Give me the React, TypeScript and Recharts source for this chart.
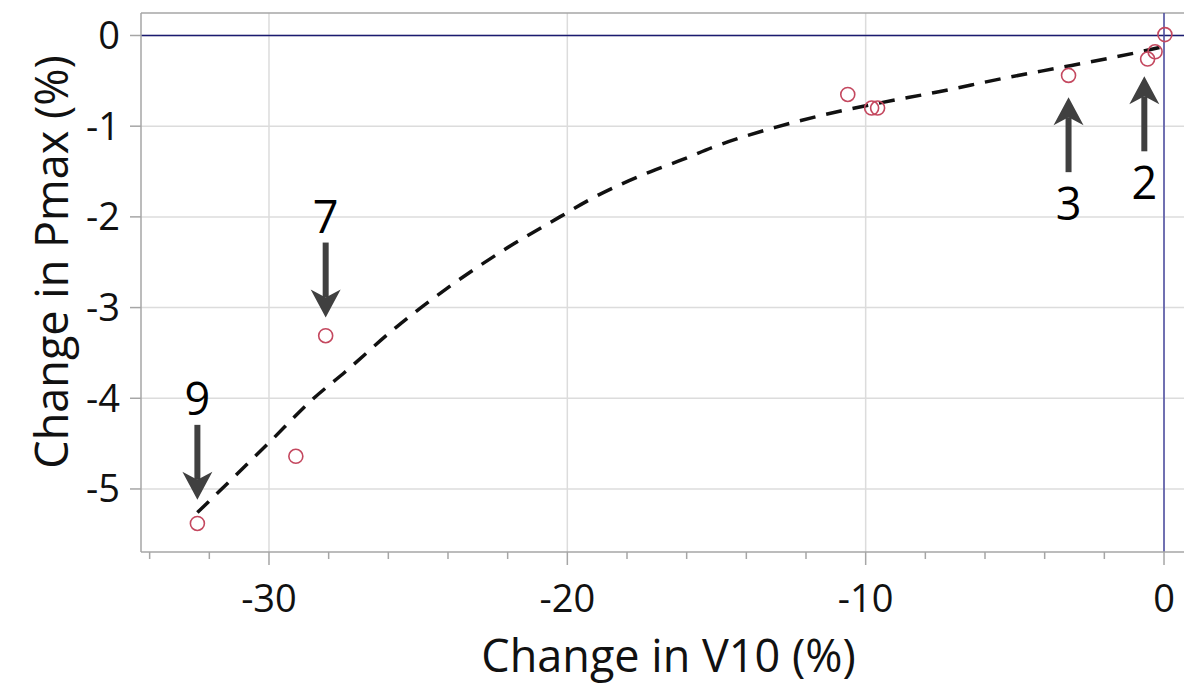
import React from "react";
import {
  CartesianGrid,
  ComposedChart,
  Line,
  ReferenceLine,
  Scatter,
  XAxis,
  YAxis,
} from "recharts";

// measured points (change in V10 %, change in Pmax %)
const v10Change = [-32.4, -29.1, -28.1, -10.6, -9.8, -9.6, -3.2, -0.55, -0.3, 0.03];
const pmaxChange = [-5.38, -4.64, -3.31, -0.65, -0.8, -0.8, -0.44, -0.26, -0.18, 0.01];

// fitted trend
const fitX = [-32.4, -30, -28.5, -27.45, -25.75, -24, -22.15, -20.25, -19.25, -17.2, -16.15, -15.1, -13, -10.8, -9.7, -7.55, -5.35, -3.1, -0.8, 0];
const fitY = [-5.26, -4.49, -4.0, -3.71, -3.22, -2.78, -2.37, -2.0, -1.81, -1.5, -1.37, -1.23, -1.01, -0.83, -0.755, -0.62, -0.47, -0.33, -0.18, -0.12];

// arrow annotations: x, y of arrow tip, label, pointing direction
const arrowX = [-32.4, -28.1, -3.2, -0.66];
const arrowY = [-5.12, -3.11, -0.68, -0.45];
const arrowLabels = ["9", "7", "3", "2"];
const arrowDir = ["down", "down", "up", "up"];

const xTicks = [-34, -32, -30, -28, -26, -24, -22, -20, -18, -16, -14, -12, -10, -8, -6, -4, -2, 0];
const xMajor = [-30, -20, -10, 0];
const yTicks = [-5, -4, -3, -2, -1, 0];

const xDomain = [-34.29, 0.67];
const yDomain = [-5.695, 0.248];

const points = v10Change.map((x, i) => ({ x, y: pmaxChange[i] }));
const fit = fitX.map((x, i) => ({ x, y: fitY[i] }));
const arrows = arrowX.map((x, i) => ({ x, y: arrowY[i], label: arrowLabels[i], dir: arrowDir[i] }));

const FONT = "'Open Sans', 'Noto Sans', sans-serif";
const AXIS_GRAY = "#a6a6a6";

function XTick(props: any) {
  const { x, y, payload } = props;
  const major = xMajor.includes(payload.value);
  return (
    <g>
      <line x1={x} x2={x} y1={y} y2={y + (major ? 13 : 7)} stroke={AXIS_GRAY} strokeWidth={1.5} />
      {major && (
        <text x={x} y={y + 60} textAnchor="middle" fontSize={38} fontFamily={FONT} fill="#111">
          {payload.value}
        </text>
      )}
    </g>
  );
}

function Circle(props: any) {
  const { cx, cy } = props;
  return <circle cx={cx} cy={cy} r={7} fill="none" stroke="#c4485f" strokeWidth={1.6} />;
}

function Arrow(props: any) {
  const { cx, cy, payload } = props;
  const s = payload.dir === "down" ? -1 : 1; // direction from tip towards the tail
  const len = 75;
  const head = 28;
  const notch = 20;
  const hw = 15;
  const head_pts = [
    [cx, cy],
    [cx - hw, cy + s * head],
    [cx, cy + s * notch],
    [cx + hw, cy + s * head],
  ]
    .map((p) => p.join(","))
    .join(" ");
  const labelY = s < 0 ? cy - len - 10 : cy + len + 48;
  return (
    <g>
      <line x1={cx} x2={cx} y1={cy + s * notch} y2={cy + s * len} stroke="#404040" strokeWidth={6} />
      <polygon points={head_pts} fill="#404040" />
      <text x={cx} y={labelY} textAnchor="middle" fontSize={45} fontFamily={FONT} fill="#000">
        {payload.label}
      </text>
    </g>
  );
}

function YLabel() {
  return (
    <text
      transform="translate(50, 262) rotate(-90)"
      textAnchor="middle"
      dominantBaseline="central"
      fontSize={45}
      fontFamily={FONT}
      fill="#111"
    >
      Change in Pmax (%)
    </text>
  );
}

export default function App() {
  return (
    <div style={{ position: "absolute", left: 0, top: 0, background: "#fff" }}>
      <ComposedChart
        width={1186}
        height={685}
        margin={{ top: 13, right: 2, bottom: 0, left: 0 }}
      >
        <CartesianGrid
          stroke="#dcdcdc"
          strokeWidth={1.5}
          verticalValues={xMajor}
          horizontalValues={yTicks}
        />
        <XAxis
          type="number"
          dataKey="x"
          domain={xDomain}
          allowDataOverflow
          ticks={xTicks}
          interval={0}
          tickLine={false}
          tickSize={0}
          tickMargin={0}
          tick={<XTick />}
          height={133}
          axisLine={{ stroke: AXIS_GRAY, strokeWidth: 1.5 }}
          label={{
            value: "Change in V10 (%)",
            position: "insideBottom",
            offset: 13,
            dx: 6,
            style: { fontSize: 45, fontFamily: FONT, fill: "#111" },
          }}
        />
        <YAxis
          type="number"
          dataKey="y"
          domain={yDomain}
          allowDataOverflow
          ticks={yTicks}
          interval={0}
          width={141}
          tickSize={11}
          tickMargin={10}
          tick={{ fontSize: 38, fontFamily: FONT, fill: "#111" }}
          tickLine={{ stroke: AXIS_GRAY, strokeWidth: 1.5 }}
          axisLine={{ stroke: AXIS_GRAY, strokeWidth: 1.5 }}
          label={<YLabel />}
        />
        <ReferenceLine y={yDomain[1]} stroke={AXIS_GRAY} strokeWidth={1.5} />
        <ReferenceLine y={0} stroke="#1a1a70" strokeWidth={1.5} />
        <ReferenceLine x={0} stroke="#4a4aa0" strokeWidth={1.5} />
        <Line
          data={fit}
          dataKey="y"
          type="monotone"
          stroke="#111"
          strokeWidth={3.5}
          strokeDasharray="16 11"
          dot={false}
          activeDot={false}
          isAnimationActive={false}
        />
        <Scatter data={points} dataKey="y" shape={<Circle />} isAnimationActive={false} />
        <Scatter data={arrows} dataKey="y" shape={<Arrow />} isAnimationActive={false} />
      </ComposedChart>
    </div>
  );
}
